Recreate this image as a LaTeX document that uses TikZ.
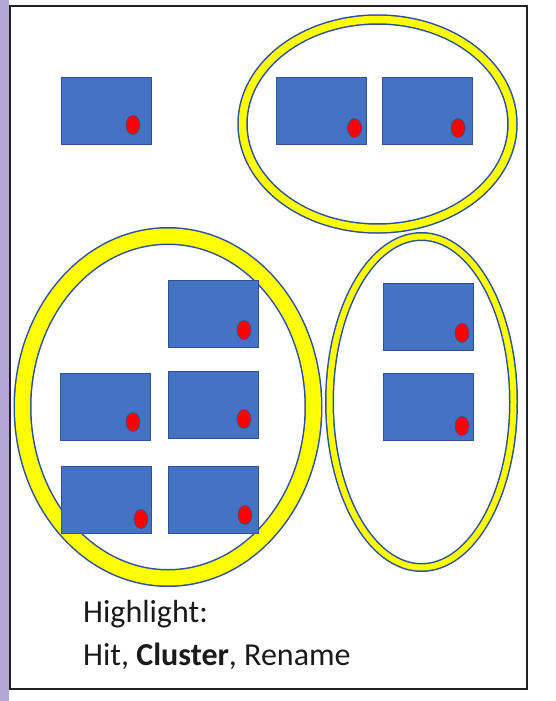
\documentclass[tikz,border=0pt]{standalone}
\usepackage{fontspec}
\setmainfont{Carlito}
\usepackage{tikz}
\usepackage{xcolor}
\usetikzlibrary{positioning,shapes.geometric,calc}
\definecolor{sidebar}{HTML}{B4A7D6}
\definecolor{ink}{HTML}{1A1A1A}
\definecolor{framegray}{HTML}{222222}
\definecolor{boxblue}{HTML}{4472C4}
\definecolor{boxline}{HTML}{2F528F}
\definecolor{hitred}{HTML}{FF0000}
\definecolor{ringyellow}{HTML}{FFFF00}
\definecolor{ringblue}{HTML}{2F4F9A}
\tikzset{
  filebox/.style={
    draw=boxline, fill=boxblue, line width=1pt,
    rectangle, inner sep=0pt, minimum width=90pt, minimum height=67pt
  },
  hitdot/.style={
    draw=boxline, fill=hitred, line width=0.6pt, ellipse,
    inner sep=0pt, minimum width=14pt, minimum height=19pt
  },
  clusterring/.style={
    draw=ringblue, line width=1.5pt, double=ringyellow, ellipse,
    inner sep=0pt
  },
  legendtext/.style={
    anchor=base west, inner sep=0pt, text=ink,
    font=\fontsize{32}{43}\selectfont
  }
}

\begin{document}
\begin{tikzpicture}[x=1pt,y=-1pt]
  \useasboundingbox (0,0) rectangle (555,701);
  % side strip and frame
  \fill[sidebar] (0,0) rectangle (8.5,701);
  \draw[framegray, line width=2.5pt] (10,6) rectangle (527,689);

  % cluster rings
  \node[clusterring, double distance=7.5pt, minimum width=270pt, minimum height=209pt] (topgroup) at (377.5,124) {};
  \node[clusterring, double distance=15pt, minimum width=291pt, minimum height=342pt] (biggroup) at (168,407) {};
  \node[clusterring, double distance=6pt, minimum width=184pt, minimum height=331pt] (rightgroup) at (421.5,402) {};

  % files with their hits
  \foreach \name/\bx/\by/\dx/\dy in {
      lone/106/111/27/14,
      topa/321.5/111/33/17, topb/427/111/31/17,
      biga/213/314/31/16, bigb/105/407/28/15, bigc/213/405/31/14,
      bigd/106/500/35/19, bige/213/500/32/15,
      righta/428/317/34/16, rightb/428/407/34/19} {
    \node[filebox] (\name) at (\bx,\by) {};
    \node[hitdot] (\name-hit) at (\bx+\dx,\by+\dy) {};
  }

  % legend
  \node[legendtext] (legendhead) at (83,622) {Highlight:};
  \node[legendtext] (legendops) at (83,665) {Hit, \textbf{Cluster}, Rename};
\end{tikzpicture}
\end{document}
